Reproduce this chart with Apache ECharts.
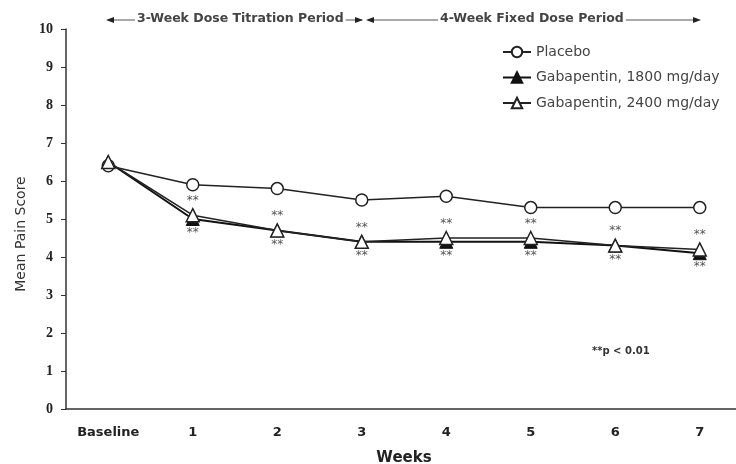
<!DOCTYPE html>
<html><head><meta charset="utf-8">
<script src="https://cdn.jsdelivr.net/npm/echarts@6/dist/echarts.min.js"></script>
<style>html,body{margin:0;padding:0;background:#fff}#c{width:736px;height:464px}</style>
</head><body><div id="c"></div>
<script>
var categories = ['Baseline','1','2','3','4','5','6','7'];
var placebo = [6.4, 5.9, 5.8, 5.5, 5.6, 5.3, 5.3, 5.3];
var gaba1800 = [6.5, 5.0, 4.7, 4.4, 4.4, 4.4, 4.3, 4.1];
var gaba2400 = [6.5, 5.1, 4.7, 4.4, 4.5, 4.5, 4.3, 4.2];
var yTicks = [0,1,2,3,4,5,6,7,8,9,10];
var seriesNames = ['Placebo','Gabapentin, 1800 mg/day','Gabapentin, 2400 mg/day'];

var chart = echarts.init(document.getElementById('c'));
function starLabel(pos){
  return {show:true, position:pos, distance:1, fontSize:12, color:'#555', fontFamily:'DejaVu Sans',
    formatter:function(p){return p.dataIndex===0?'':'**';}};
}
var F = 'DejaVu Sans';
chart.setOption({
  animation:false,
  backgroundColor:'#fff',
  grid:{left:66, right:-6, top:29, bottom:55, containLabel:false, outerBoundsMode:'none'},
  legend:{orient:'vertical', left:497, top:40, itemGap:11.5, itemWidth:28, itemHeight:13,
    textStyle:{fontFamily:F, fontSize:14, color:'#444'},
    data:seriesNames},
  xAxis:{type:'category', data:categories, boundaryGap:true,
    axisLine:{lineStyle:{color:'#333', width:1.5}}, axisTick:{show:false},
    axisLabel:{fontFamily:F, fontWeight:'bold', fontSize:13, color:'#222', margin:17},
    name:'Weeks', nameLocation:'middle', nameGap:42,
    nameTextStyle:{fontFamily:F, fontWeight:'bold', fontSize:15, color:'#222'}},
  yAxis:{type:'value', min:0, max:10, interval:1,
    axisLine:{show:true, lineStyle:{color:'#333', width:1.5}},
    axisTick:{show:true, inside:false, length:5, lineStyle:{color:'#333'}},
    splitLine:{show:false},
    axisLabel:{fontFamily:'Liberation Serif', fontWeight:'bold', fontSize:14, color:'#222', margin:13,
      formatter:function(v){return yTicks.indexOf(v)>=0?String(v):'';}},
    name:'Mean Pain Score', nameLocation:'middle', nameGap:32, nameRotate:90,
    nameTextStyle:{fontFamily:F, fontSize:14, color:'#333', padding:[0,30,0,0]}},
  series:[
    {name:seriesNames[0], type:'line', data:placebo, symbol:'circle', symbolSize:12,
     lineStyle:{color:'#222', width:1.5}, itemStyle:{color:'#fff', borderColor:'#222', borderWidth:1.5}, z:3},
    {name:seriesNames[1], type:'line', data:gaba1800, symbol:'triangle', symbolSize:13,
     lineStyle:{color:'#111', width:2}, itemStyle:{color:'#111', borderColor:'#111', borderWidth:1},
     label:starLabel('bottom'), z:2},
    {name:seriesNames[2], type:'line', data:gaba2400, symbol:'triangle', symbolSize:13,
     lineStyle:{color:'#222', width:1.5}, itemStyle:{color:'#fff', borderColor:'#222', borderWidth:1.5},
     label:starLabel('top'), z:4}
  ],
  graphic:[
    {type:'line', shape:{x1:108,y1:20,x2:362,y2:20}, style:{stroke:'#555', lineWidth:1.2}},
    {type:'polygon', shape:{points:[[106,20],[114,17],[114,23]]}, style:{fill:'#222'}},
    {type:'polygon', shape:{points:[[363,20],[355,17],[355,23]]}, style:{fill:'#222'}},
    {type:'text', left:135, top:12, style:{text:'3-Week Dose Titration Period', fontFamily:F, fontWeight:'bold', fontSize:12.5, fill:'#444', backgroundColor:'#fff', padding:[0,2]}},
    {type:'line', shape:{x1:368,y1:20,x2:698,y2:20}, style:{stroke:'#555', lineWidth:1.2}},
    {type:'polygon', shape:{points:[[366,20],[374,17],[374,23]]}, style:{fill:'#222'}},
    {type:'polygon', shape:{points:[[701,20],[693,17],[693,23]]}, style:{fill:'#222'}},
    {type:'text', left:438, top:12, style:{text:'4-Week Fixed Dose Period', fontFamily:F, fontWeight:'bold', fontSize:12.5, fill:'#444', backgroundColor:'#fff', padding:[0,2]}},
    {type:'text', left:592, top:346, style:{text:'**p < 0.01', fontFamily:F, fontWeight:'bold', fontSize:10, fill:'#333'}}
  ]
});
</script></body></html>
